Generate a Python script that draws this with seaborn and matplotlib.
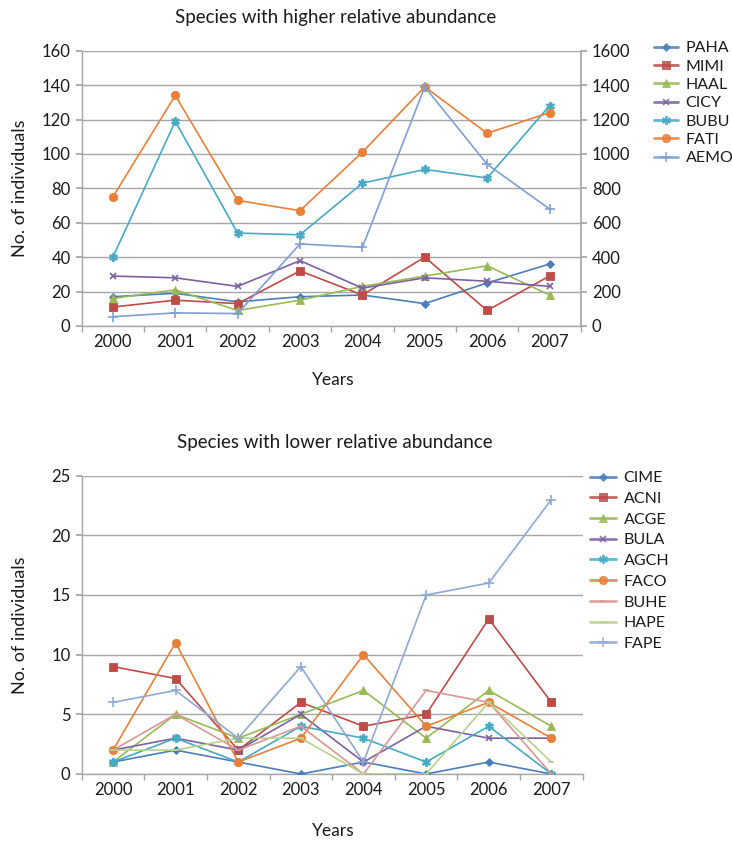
import numpy as np
import pandas as pd
import matplotlib
matplotlib.use("Agg")
import matplotlib.pyplot as plt
import seaborn as sns
from matplotlib.lines import Line2D

years = [2000, 2001, 2002, 2003, 2004, 2005, 2006, 2007]

# Species with higher relative abundance
high_names = ["PAHA", "MIMI", "HAAL", "CICY", "BUBU", "FATI", "AEMO"]
PAHA = [17, 19, 14, 17, 18, 13, 25, 36]
MIMI = [11, 15, 13, 32, 18, 40, 9, 29]
HAAL = [16, 21, 9, 15, 23, 29, 35, 18]
CICY = [29, 28, 23, 38, 22, 28, 26, 23]
BUBU = [40, 119, 54, 53, 83, 91, 86, 128]
FATI = [75, 134, 73, 67, 101, 139, 112, 124]
AEMO = [5.4, 7.6, 7.2, 47.7, 45.7, 139, 94, 68]
high_values = [PAHA, MIMI, HAAL, CICY, BUBU, FATI, AEMO]

# Species with lower relative abundance
low_names = ["CIME", "ACNI", "ACGE", "BULA", "AGCH", "FACO", "BUHE", "HAPE", "FAPE"]
CIME = [1, 2, 1, 0, 1, 0, 1, 0]
ACNI = [9, 8, 2, 6, 4, 5, 13, 6]
ACGE = [1, 5, 3, 5, 7, 3, 7, 4]
BULA = [2, 3, 2, 5, 1, 4, 3, 3]
AGCH = [1, 3, 1, 4, 3, 1, 4, 0]
FACO = [2, 11, 1, 3, 10, 4, 6, 3]
BUHE = [2, 5, 2, 4, 0, 7, 6, 0]
HAPE = [2, 2, 3, 3, 0, 0, 6, 1]
FAPE = [6, 7, 3, 9, 1, 15, 16, 23]
low_values = [CIME, ACNI, ACGE, BULA, AGCH, FACO, BUHE, HAPE, FAPE]

sns.set_theme(style="white")
plt.rcParams["font.family"] = ["Lato", "DejaVu Sans"]

high_colors = ["#4A7EBB", "#BE4B48", "#98B954", "#7D60A0", "#46AAC5", "#E8803A", "#7F9FD3"]
high_markers = ["D", "s", "^", "x", "$\u2731$", "o", "+"]
high_msize = [4, 6, 6, 5, 6, 6, 7]

low_colors = ["#4A7EBB", "#BE4B48", "#98B954", "#7D60A0", "#46AAC5", "#E8803A",
              "#D99694", "#B7D18F", "#8FA9D6"]
low_markers = ["D", "s", "^", "x", "$\u2731$", "o", "_", "_", "+"]
low_msize = [4, 6, 6, 5, 6, 6, 5, 5, 7]

grid_c = "#A6A6A6"
axis_c = "#A6A6A6"
text_c = "#1a1a1a"

TICK_FS = 12
LABEL_FS = 12.5
TITLE_FS = 13.5
LEG_FS = 11.5

fig = plt.figure(figsize=(7.32, 8.41), dpi=100)
ax1 = fig.add_axes([0.1116, 0.6124, 0.6817, 0.3273])
ax2 = fig.add_axes([0.1116, 0.0797, 0.6844, 0.3547])

x_idx = np.arange(len(years))


def draw(ax, names, values, colors, markers, msizes):
    handles = []
    for name, vals, c, m, ms in zip(names, values, colors, markers, msizes):
        df = pd.DataFrame({"x": x_idx, "y": vals})
        mew = 1.2 if m in ("x", "+", "_") else 0.6
        sns.lineplot(data=df, x="x", y="y", ax=ax, color=c, marker=m,
                     markersize=ms, markeredgecolor=c, markerfacecolor=c,
                     markeredgewidth=mew, linewidth=1.2, zorder=3)
        handles.append(Line2D([0], [0], color=c, marker=m, markersize=ms,
                              markeredgecolor=c, markerfacecolor=c,
                              markeredgewidth=mew, linewidth=2.0, alpha=0.85))
    return handles


def style_axes(ax, ymax, ystep):
    ax.set_xlim(-0.5, len(years) - 0.5)
    ax.set_ylim(0, ymax)
    ax.set_yticks(np.arange(0, ymax + 0.1, ystep))
    ax.set_xticks(x_idx)
    ax.set_xticklabels([str(y) for y in years])
    ax.set_xticks(np.arange(-0.5, len(years), 1.0), minor=True)
    ax.tick_params(axis="x", which="major", length=0, labelsize=TICK_FS, colors=text_c, pad=6)
    ax.tick_params(axis="x", which="minor", length=4, color=axis_c, direction="out", bottom=True)
    ax.tick_params(axis="y", length=4, color=axis_c, direction="out", left=True,
                   labelsize=TICK_FS, labelcolor=text_c, pad=4)
    ax.grid(axis="y", color=grid_c, linewidth=1.0, zorder=0)
    ax.grid(axis="x", visible=False)
    for s in ["top", "right"]:
        ax.spines[s].set_visible(False)
    for s in ["left", "bottom"]:
        ax.spines[s].set_color(axis_c)
        ax.spines[s].set_linewidth(1.0)
    ax.set_xlabel("")
    ax.set_ylabel("")


h1 = draw(ax1, high_names, high_values, high_colors, high_markers, high_msize)
style_axes(ax1, 160, 20)
ax1r = ax1.twinx()
ax1r.set_ylim(0, 1600)
ax1r.set_yticks(np.arange(0, 1601, 200))
ax1r.tick_params(axis="y", length=4, color=axis_c, direction="out", right=True,
                 labelsize=TICK_FS, labelcolor=text_c, pad=4)
for s in ["top", "left", "bottom"]:
    ax1r.spines[s].set_visible(False)
ax1r.spines["right"].set_color(axis_c)
ax1r.grid(False)

h2 = draw(ax2, low_names, low_values, low_colors, low_markers, low_msize)
style_axes(ax2, 25, 5)

fig.text(0.458, 0.9786, "Species with higher relative abundance", ha="center", va="center",
         fontsize=TITLE_FS, color=text_c)
fig.text(0.458, 0.4744, "Species with lower relative abundance", ha="center", va="center",
         fontsize=TITLE_FS, color=text_c)
fig.text(0.455, 0.548, "Years", ha="center", va="center", fontsize=LABEL_FS, color=text_c)
fig.text(0.455, 0.0119, "Years", ha="center", va="center", fontsize=LABEL_FS, color=text_c)
fig.text(0.028, 0.776, "No. of individuals", ha="center", va="center", rotation=90,
         fontsize=13, color=text_c)
fig.text(0.028, 0.257, "No. of individuals", ha="center", va="center", rotation=90,
         fontsize=13, color=text_c)

fig.legend(h1, high_names, loc="upper left", bbox_to_anchor=(0.893, 0.951),
           bbox_transform=fig.transFigure, frameon=False, fontsize=LEG_FS,
           handlelength=1.5, handletextpad=0.5, labelspacing=0.26, borderaxespad=0,
           borderpad=0, labelcolor=text_c)
fig.legend(h2, low_names, loc="upper left", bbox_to_anchor=(0.806, 0.440),
           bbox_transform=fig.transFigure, frameon=False, fontsize=LEG_FS,
           handlelength=1.6, handletextpad=0.5, labelspacing=0.41, borderaxespad=0,
           borderpad=0, labelcolor=text_c)

fig.savefig("out.png", dpi=100, facecolor="white")
